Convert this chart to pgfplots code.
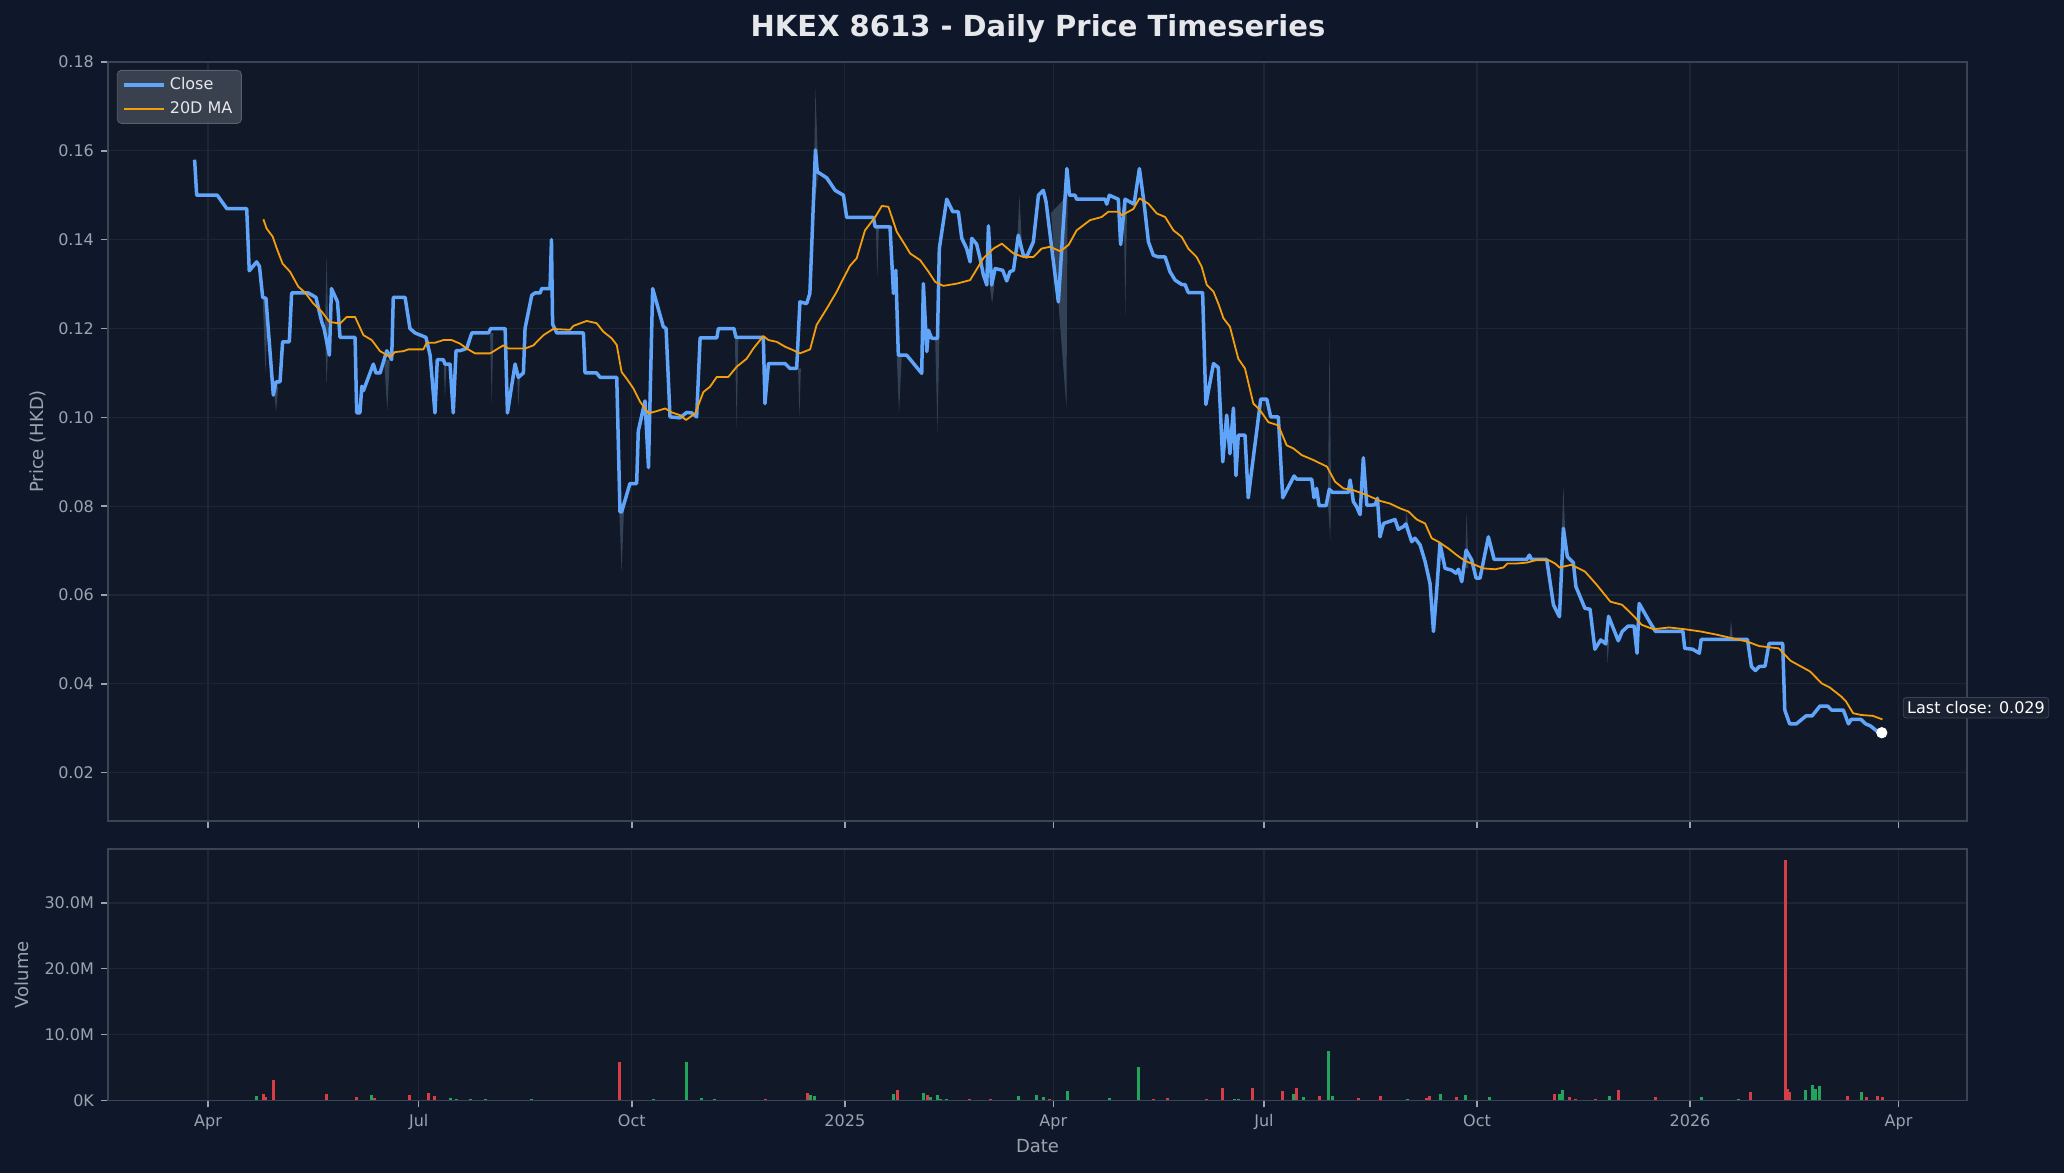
\documentclass[border=0pt]{standalone}
\usepackage{fontspec}
\setmainfont{DejaVu Sans}
\usepackage{pgfplots}
\pgfplotsset{compat=1.18}
\definecolor{figbg}{HTML}{0F172A}
\definecolor{axbg}{HTML}{111827}
\definecolor{gridc}{HTML}{1E2636}
\definecolor{spine}{HTML}{3B4454}
\definecolor{tickc}{HTML}{9CA3AF}
\definecolor{closec}{HTML}{60A5FA}
\definecolor{mac}{HTML}{F59E0B}
\definecolor{upc}{HTML}{22A55A}
\definecolor{downc}{HTML}{D63D47}
\definecolor{titlec}{HTML}{E5E7EB}
\definecolor{legbg}{HTML}{3A414E}
\definecolor{legedge}{HTML}{566070}
\definecolor{spikec}{HTML}{334155}
\definecolor{annbg}{HTML}{1A2232}

\pgfplotsset{
  dk/.style={
    scale only axis, width=929.5pt,
    axis background/.style={fill=axbg},
    axis line style={spine, line width=0.8pt},
    grid=major, major grid style={gridc, line width=0.6pt},
    tick style={tickc, line width=0.7pt},
    major tick length=3.5pt,
    tick align=outside,
    xtick pos=left, ytick pos=left,
    tick label style={text=tickc, font=\fontsize{8}{9.6}\selectfont},
    xmin=-43.2, xmax=759.6,
    xtick={0,91,183,275,365,456,548,640,730},
  }
}

\begin{document}
\begin{tikzpicture}
\fill[figbg] (0,0) rectangle (1032pt,586.5pt);
\useasboundingbox (0,0) rectangle (1032pt,586.5pt);

\node[font=\bfseries\fontsize{14.5}{17}\selectfont, text=titlec] at (519pt,572pt) {HKEX 8613 - Daily Price Timeseries};

% ---------------- price panel ----------------
\begin{axis}[dk, at={(54pt,555.5pt)}, anchor=north west, height=379.5pt,
  ymin=0.00913, ymax=0.18,
  xticklabels={},
  ytick={0.02,0.04,0.06,0.08,0.10,0.12,0.14,0.16,0.18},
  yticklabels={0.02,0.04,0.06,0.08,0.10,0.12,0.14,0.16,0.18},
  ylabel={Price (HKD)},
  every axis y label/.style={at={(axis description cs:-0.0377,0.5)}, rotate=90, anchor=center,
    text=tickc, font=\fontsize{9}{11}\selectfont},
  clip=false,
  legend cell align=left,
  legend style={at={(axis description cs:0.0048,0.9895)}, anchor=north west,
    fill=legbg, draw=legedge, rounded corners=2pt, text=titlec,
    font=\fontsize{8}{9.6}\selectfont, inner xsep=2.5pt, inner ysep=1.5pt, row sep=0.5pt},
  legend image code/.code={\draw[#1] (0pt,0pt) -- (20pt,0pt);},
]
% high-low range spikes
\addplot[fill=spikec, draw=none, forget plot] coordinates {(23.6,0.127) (24.8,0.110) (26.0,0.127)} -- cycle;
\addplot[fill=spikec, draw=none, forget plot] coordinates {(28.5,0.106) (29.4,0.1012) (30.3,0.107)} -- cycle;
\addplot[fill=spikec, draw=none, forget plot] coordinates {(50.5,0.120) (51.2,0.1365) (52.0,0.118) (51.2,0.1073)} -- cycle;
\addplot[fill=spikec, draw=none, forget plot] coordinates {(76.0,0.113) (77.4,0.1016) (78.5,0.113)} -- cycle;
\addplot[fill=spikec, draw=none, forget plot] coordinates {(101.8,0.112) (102.3,0.1042) (103.0,0.112)} -- cycle;
\addplot[fill=spikec, draw=none, forget plot] coordinates {(121.8,0.119) (122.5,0.1031) (123.2,0.119)} -- cycle;
\addplot[fill=spikec, draw=none, forget plot] coordinates {(133.5,0.109) (134.0,0.1024) (134.7,0.109)} -- cycle;
\addplot[fill=spikec, draw=none, forget plot] coordinates {(177.6,0.0787) (178.6,0.0652) (179.6,0.0787)} -- cycle;
\addplot[fill=spikec, draw=none, forget plot] coordinates {(227.5,0.118) (228.3,0.0975) (229.0,0.118)} -- cycle;
\addplot[fill=spikec, draw=none, forget plot] coordinates {(254.8,0.111) (255.4,0.1001) (256.0,0.111)} -- cycle;
\addplot[fill=spikec, draw=none, forget plot] coordinates {(261.3,0.145) (262.3,0.174) (263.6,0.155)} -- cycle;
\addplot[fill=spikec, draw=none, forget plot] coordinates {(288.4,0.1429) (289.0,0.1316) (289.7,0.1429)} -- cycle;
\addplot[fill=spikec, draw=none, forget plot] coordinates {(297.4,0.114) (298.4,0.1009) (299.6,0.114)} -- cycle;
\addplot[fill=spikec, draw=none, forget plot] coordinates {(314.0,0.1178) (315.0,0.0967) (315.9,0.120)} -- cycle;
\addplot[fill=spikec, draw=none, forget plot] coordinates {(337.5,0.1298) (338.6,0.1256) (339.6,0.1298)} -- cycle;
\addplot[fill=spikec, draw=none, forget plot] coordinates {(349.3,0.138) (350.4,0.150) (351.6,0.138)} -- cycle;
\addplot[fill=spikec, draw=none, forget plot] coordinates {(364.0,0.146) (367.2,0.126) (370.7,0.102) (371.2,0.150)} -- cycle;
\addplot[fill=spikec, draw=none, forget plot] coordinates {(395.4,0.149) (396.1,0.123) (396.9,0.149)} -- cycle;
\addplot[fill=spikec, draw=none, forget plot] coordinates {(483.6,0.081) (484.3,0.1178) (485.0,0.081) (484.6,0.0724)} -- cycle;
\addplot[fill=spikec, draw=none, forget plot] coordinates {(516.8,0.0754) (517.6,0.0788) (518.4,0.0754)} -- cycle;
\addplot[fill=spikec, draw=none, forget plot] coordinates {(542.8,0.066) (543.5,0.0788) (544.3,0.066)} -- cycle;
\addplot[fill=spikec, draw=none, forget plot] coordinates {(584.3,0.070) (585.3,0.0844) (586.4,0.070)} -- cycle;
\addplot[fill=spikec, draw=none, forget plot] coordinates {(603.8,0.050) (604.4,0.0446) (605.1,0.050)} -- cycle;
\addplot[fill=spikec, draw=none, forget plot] coordinates {(657.0,0.050) (657.7,0.0544) (658.5,0.050)} -- cycle;

% Close
\addplot[closec, line width=1.75pt, line join=round] coordinates {
(-5.8,0.158) (-4.9,0.150) (4.0,0.150) (8.1,0.147) (16.7,0.147) (17.8,0.133) (21.0,0.135) (22.2,0.134)
(23.6,0.127) (25.0,0.1268) (28.2,0.105) (29.4,0.108) (31.1,0.108) (32.2,0.117) (35.1,0.117) (36.1,0.128)
(43.3,0.128) (46.6,0.127) (49.1,0.1215) (50.1,0.120) (52.4,0.114) (53.3,0.129) (55.9,0.126) (57.0,0.118)
(63.5,0.118) (64.2,0.101) (65.6,0.101) (66.4,0.107) (67.1,0.106) (71.4,0.112) (72.5,0.110) (74.3,0.110)
(77.2,0.115) (79.3,0.113) (80.0,0.127) (85.1,0.127) (87.2,0.120) (89.4,0.119) (94.1,0.118) (95.9,0.114)
(98.0,0.101) (99.0,0.113) (101.6,0.113) (102.3,0.112) (104.5,0.112) (105.9,0.101) (107.1,0.115) (108.8,0.115)
(111.7,0.1155) (113.9,0.119) (121.1,0.119) (122.1,0.120) (128.3,0.120) (129.3,0.101) (132.6,0.112) (134.0,0.109)
(136.2,0.110) (136.9,0.120) (139.8,0.1275) (141.2,0.128) (143.4,0.128) (144.1,0.129) (147.7,0.129) (148.3,0.140)
(148.8,0.121) (150.6,0.119) (162.1,0.119) (162.8,0.110) (167.8,0.110) (169.3,0.109) (176.5,0.109) (177.9,0.0787)
(178.6,0.0787) (182.2,0.0851) (185.1,0.0851) (185.8,0.0969) (188.7,0.1037) (190.2,0.0887) (192.0,0.129) (196.6,0.1204)
(197.8,0.120) (199.5,0.1001) (203.8,0.0999) (206.7,0.1011) (208.9,0.101) (211.0,0.1001) (212.5,0.1179) (219.7,0.1179)
(220.4,0.120) (227.1,0.120) (228.0,0.118) (239.8,0.118) (240.5,0.1031) (242.0,0.1121) (249.2,0.1121) (251.3,0.111)
(254.2,0.111) (255.6,0.126) (258.5,0.1256) (259.9,0.1279) (262.3,0.1602) (263.1,0.1553) (267.2,0.1539) (270.8,0.1511)
(274.4,0.150) (275.8,0.145) (287.3,0.145) (288.1,0.1429) (294.5,0.1429) (296.0,0.1279) (297.0,0.1331) (298.1,0.114)
(301.7,0.114) (308.2,0.1099) (308.9,0.1301) (310.4,0.1148) (311.1,0.1196) (312.5,0.1178) (315.0,0.1178) (315.8,0.138)
(319.0,0.1491) (321.6,0.1463) (324.0,0.1463) (325.5,0.1403) (327.6,0.138) (329.1,0.135) (329.8,0.1403) (331.9,0.139)
(333.4,0.1358) (334.8,0.1321) (336.3,0.1298) (337.0,0.1431) (338.4,0.1298) (339.9,0.1335) (343.2,0.1331) (344.9,0.1307)
(346.3,0.1328) (347.8,0.1331) (349.9,0.141) (352.1,0.1365) (353.5,0.1361) (356.4,0.1395) (358.6,0.150) (360.7,0.1511)
(361.9,0.1485) (367.2,0.126) (370.9,0.156) (372.0,0.150) (374.4,0.150) (375.1,0.1491) (387.4,0.1491) (388.1,0.148)
(389.2,0.150) (393.1,0.1491) (394.1,0.1389) (396.0,0.1491) (399.9,0.148) (402.2,0.156) (404.2,0.1483) (406.1,0.1395)
(408.2,0.1365) (410.4,0.1361) (413.3,0.1361) (415.4,0.1328) (417.6,0.1309) (420.5,0.1299) (421.9,0.1299) (423.3,0.1281)
(429.5,0.1281) (430.9,0.1029) (434.2,0.1121) (436.3,0.1112) (438.2,0.090) (439.9,0.1005) (441.3,0.0918) (442.8,0.1021)
(443.9,0.0869) (444.9,0.096) (447.8,0.096) (449.2,0.0819) (450.7,0.0881) (452.8,0.0967) (454.6,0.1041) (457.2,0.1041)
(458.9,0.1001) (462.2,0.1001) (464.1,0.0819) (465.8,0.0836) (469.0,0.0868) (470.1,0.0861) (476.6,0.0861) (477.6,0.0819)
(478.7,0.084) (479.8,0.0801) (482.8,0.0801) (484.2,0.0838) (485.6,0.0831) (492.4,0.0831) (493.2,0.0859) (494.6,0.081)
(496.0,0.0799) (497.5,0.0781) (498.9,0.0909) (500.4,0.0802) (504.0,0.0803) (505.0,0.0818) (506.1,0.0731) (507.6,0.0761)
(512.6,0.077) (514.0,0.0748) (516.2,0.0754) (517.3,0.076) (519.8,0.072) (521.2,0.0728) (523.4,0.0713) (525.6,0.0675)
(527.7,0.0626) (529.2,0.0518) (530.6,0.0611) (532.0,0.0716) (534.2,0.066) (537.1,0.0656) (538.9,0.0649) (540.0,0.0658)
(541.4,0.063) (543.3,0.0701) (545.7,0.0679) (547.6,0.0638) (549.3,0.0638) (552.9,0.0731) (555.4,0.068) (569.5,0.068)
(570.6,0.069) (571.6,0.068) (578.1,0.068) (581.0,0.0578) (583.6,0.0551) (585.3,0.075) (587.0,0.0686) (589.6,0.0673)
(590.7,0.0619) (594.6,0.057) (596.8,0.0568) (598.9,0.0478) (601.4,0.0499) (603.6,0.049) (604.8,0.0552) (609.0,0.0497)
(610.7,0.0518) (613.2,0.053) (615.8,0.053) (617.1,0.0469) (618.0,0.0581) (622.5,0.054) (625.1,0.0518) (636.9,0.0518)
(637.7,0.048) (641.1,0.0478) (644.0,0.0469) (644.8,0.050) (664.8,0.050) (666.5,0.0439) (668.2,0.043) (669.9,0.0439)
(672.4,0.044) (674.1,0.0491) (680.0,0.0491) (680.9,0.0341) (683.0,0.031) (685.9,0.031) (690.1,0.0328) (692.7,0.0328)
(696.1,0.035) (699.4,0.035) (701.1,0.0341) (706.2,0.0341) (708.4,0.031) (709.6,0.032) (713.8,0.032) (715.8,0.031)
(718.0,0.0305) (720.6,0.0294) (722.8,0.029)
};
\addlegendentry{Close}

% 20D MA
\addplot[mac, line width=0.9pt, line join=round] coordinates {
(23.9,0.1446) (25.3,0.1425) (27.9,0.1407) (29.7,0.138) (32.2,0.1346) (35.4,0.1328) (39.0,0.1294) (41.9,0.1281)
(45.5,0.1256) (49.1,0.1238) (52.4,0.1215) (57.0,0.1211) (59.9,0.1226) (63.5,0.1226) (67.1,0.1185) (70.7,0.1174)
(74.3,0.1149) (78.6,0.1136) (80.8,0.1147) (84.4,0.1149) (86.5,0.1153) (93.0,0.1153) (94.4,0.1168) (98.0,0.1168)
(101.6,0.1174) (105.2,0.1174) (108.8,0.1166) (111.7,0.1155) (115.3,0.1144) (121.8,0.1144) (127.5,0.1162) (129.7,0.1155)
(136.9,0.1155) (140.5,0.1162) (144.8,0.1185) (149.1,0.1199) (156.3,0.1197) (157.8,0.1206) (163.5,0.1217) (167.8,0.1212)
(170.7,0.1193) (174.3,0.1178) (176.5,0.1163) (178.6,0.1102) (180.8,0.1087) (183.7,0.1065) (186.6,0.1035) (190.2,0.1009)
(193.8,0.1014) (197.4,0.102) (200.3,0.1011) (203.8,0.1005) (206.4,0.0994) (210.4,0.1009) (213.9,0.1057) (216.8,0.1069)
(219.7,0.1091) (224.7,0.1091) (228.3,0.1114) (232.6,0.1132) (235.5,0.1155) (239.8,0.1183) (242.0,0.1174) (245.6,0.117)
(249.2,0.1159) (252.8,0.1151) (255.6,0.1144) (260.0,0.1153) (262.8,0.1208) (267.2,0.1245) (271.5,0.1283) (274.4,0.1313)
(277.2,0.1341) (280.1,0.1358) (283.7,0.1421) (288.1,0.1451) (291.0,0.1476) (293.8,0.1474) (297.4,0.1418) (301.0,0.1388)
(303.2,0.1369) (307.5,0.1354) (311.1,0.1328) (314.0,0.1305) (317.5,0.1296) (323.3,0.1301) (329.1,0.1309) (331.3,0.1328)
(334.8,0.1358) (339.2,0.138) (342.8,0.1391) (347.8,0.1369) (352.1,0.1361) (356.4,0.1361) (360.0,0.138) (363.6,0.1384)
(368.0,0.1374) (371.6,0.1388) (375.1,0.1421) (380.9,0.1444) (385.9,0.1451) (388.8,0.1463) (393.1,0.1463) (394.6,0.1455)
(399.6,0.1469) (402.2,0.1493) (406.1,0.1481) (409.7,0.1459) (413.3,0.1451) (416.9,0.1421) (420.5,0.1406) (423.3,0.138)
(426.9,0.1361) (429.1,0.1339) (431.3,0.1298) (434.2,0.1283) (436.3,0.1256) (438.5,0.1223) (441.3,0.1204) (444.9,0.1132)
(447.8,0.111) (451.4,0.1031) (454.3,0.1016) (457.9,0.0989) (462.2,0.0982) (465.8,0.0937) (468.7,0.093) (472.3,0.0915)
(477.3,0.0904) (483.2,0.0889) (486.7,0.0855) (490.3,0.084) (494.6,0.0836) (500.4,0.0825) (506.1,0.0812) (510.4,0.0806)
(514.8,0.0795) (518.4,0.0788) (522.0,0.077) (525.6,0.0761) (528.4,0.0728) (531.3,0.072) (535.6,0.0705) (539.2,0.069)
(542.8,0.0677) (547.1,0.0668) (550.7,0.066) (555.8,0.0658) (559.4,0.0662) (561.1,0.0671) (565.1,0.0671) (569.5,0.0673)
(573.8,0.0679) (578.8,0.0679) (581.7,0.0671) (583.6,0.0662) (588.7,0.0668) (594.6,0.0653) (599.7,0.0623) (605.6,0.0585)
(610.7,0.0578) (615.8,0.0552) (619.1,0.0533) (624.2,0.0523) (631.0,0.0527) (637.7,0.0523) (644.5,0.0518) (651.3,0.0511)
(658.0,0.0503) (664.8,0.0495) (669.9,0.0485) (678.3,0.048) (683.4,0.0452) (691.8,0.0428) (696.9,0.0401) (700.3,0.0392)
(705.4,0.0371) (707.4,0.036) (710.4,0.0334) (713.8,0.033) (718.9,0.0328) (723.1,0.032)
};
\addlegendentry{20D MA}

\addplot[only marks, mark=*, mark size=2.6pt, white, forget plot] coordinates {(722.8,0.029)};
\node[anchor=west, xshift=10.5pt, yshift=12.5pt, fill=annbg, draw=spine, rounded corners=1.5pt,
  text=white, font=\fontsize{8}{9.6}\selectfont, inner xsep=2pt, inner ysep=2pt] at (axis cs:722.8,0.029) {Last close: 0.029};
\end{axis}

% ---------------- volume panel ----------------
\begin{axis}[dk, at={(54pt,162pt)}, anchor=north west, height=125.7pt,
  ymin=0, ymax=38.2,
  xticklabels={Apr,Jul,Oct,2025,Apr,Jul,Oct,2026,Apr},
  ytick={0,10,20,30}, yticklabels={0K,10.0M,20.0M,30.0M},
  ylabel={Volume}, xlabel={Date},
  every axis y label/.style={at={(axis description cs:-0.0463,0.5)}, rotate=90, anchor=center,
    text=tickc, font=\fontsize{9}{11}\selectfont},
  every axis x label/.style={at={(axis description cs:0.5,-0.183)}, anchor=center,
    text=tickc, font=\fontsize{9}{11}\selectfont},
]
\addplot[ycomb, downc, line width=1.5pt] coordinates {
(23.9,1.0) (25.0,0.5) (28.2,3.1) (51.0,1.0) (64.2,0.45) (71.8,0.4) (87.2,0.85) (95.2,1.15) (98.0,0.6)
(177.9,5.9) (240.9,0.2) (259.0,1.1) (297.9,1.6) (310.5,0.8) (329.0,0.15) (337.9,0.2) (363.5,0.2)
(408.2,0.25) (414.2,0.4) (431.0,0.2) (438.1,1.9) (451.0,1.9) (464.1,1.5) (470.0,1.9) (480.0,0.7)
(496.8,0.4) (506.2,0.7) (526.0,0.35) (527.3,0.65) (539.0,0.45) (581.4,1.0) (587.9,0.45) (590.7,0.2)
(599.0,0.2) (609.0,1.6) (624.9,0.55) (665.9,1.3) (681.0,36.5) (681.9,1.7) (683.0,1.3) (708.1,0.7)
(716.1,0.45) (720.9,0.7) (723.2,0.55)
};
\addplot[ycomb, upc, line width=1.5pt] coordinates {
(21.0,0.6) (70.8,0.85) (104.9,0.4) (107.2,0.25) (113.2,0.25) (120.0,0.25) (139.8,0.25) (192.2,0.25)
(206.8,5.9) (212.9,0.4) (218.9,0.25) (260.1,0.8) (262.1,0.7) (296.2,1.0) (309.1,1.1) (312.2,0.45)
(314.8,0.8) (316.5,0.25) (319.1,0.25) (349.8,0.7) (357.7,0.8) (360.7,0.45) (371.2,1.5) (389.2,0.4)
(402.0,5.1) (443.3,0.25) (445.0,0.25) (468.6,1.0) (472.9,0.55) (484.0,7.5) (485.7,0.7) (517.9,0.2)
(532.1,1.0) (542.9,0.85) (553.2,0.55) (583.6,1.0) (584.8,1.6) (605.0,0.7) (644.9,0.45) (661.1,0.25)
(689.9,1.6) (693.0,2.4) (694.1,1.8) (696.1,2.2) (714.1,1.3)
};
\end{axis}
\end{tikzpicture}
\end{document}
